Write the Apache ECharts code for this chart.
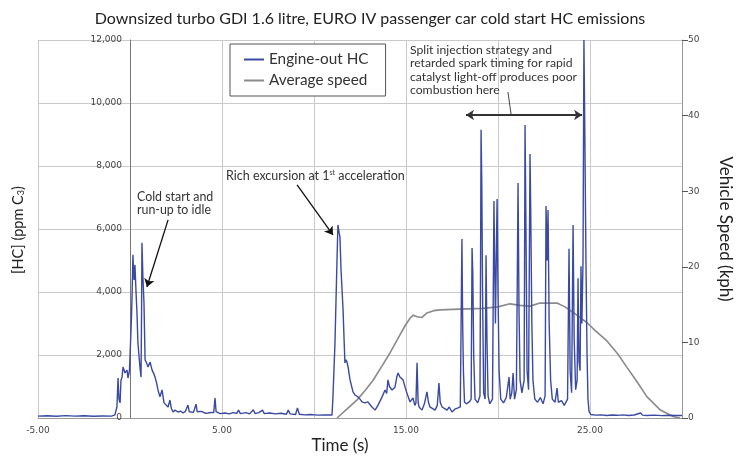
<!DOCTYPE html>
<html>
<head>
<meta charset="utf-8">
<script src="https://cdn.jsdelivr.net/npm/echarts@6/dist/echarts.min.js"></script>
<style>html,body{margin:0;padding:0;background:#fff}#c{width:740px;height:456px}</style>
</head>
<body>
<div id="c"></div>
<script>
// ---- data: [time (s), HC (ppm C3)] ----
var hcPreStart = [[-5,60],[-4.5,70],[-4,55],[-3.5,75],[-3,60],[-2.5,70],[-2,55],[-1.5,65],[-1,60],[-0.9,70]];
var hcColdStart = [[-0.82,100],[-0.71,350],[-0.65,1270],[-0.6,600],[-0.54,480],[-0.49,1200],[-0.43,1300],[-0.38,1620],[-0.27,1430],[-0.16,1520],[-0.11,1270],[-0.03,1500],[0.0,1940],[0.08,3200],[0.11,3840],[0.16,5180],[0.19,4700],[0.22,4380],[0.27,4860],[0.32,4100],[0.38,3330],[0.43,2380],[0.5,1900],[0.56,1500],[0.6,1300],[0.63,3500],[0.65,5560],[0.7,4500],[0.76,3650],[0.82,1840],[0.9,1750],[0.98,1620],[1.09,1780],[1.2,1520],[1.3,1400],[1.36,1300],[1.45,1100],[1.52,890],[1.63,670],[1.74,890],[1.85,480],[1.95,420],[2.07,350],[2.17,570],[2.25,300],[2.34,190],[2.45,250],[2.61,190],[2.75,220],[2.88,160],[3.0,200],[3.15,410],[3.22,200],[3.32,190],[3.45,180],[3.59,440],[3.65,200],[3.70,160],[3.85,210],[3.97,190],[4.1,150],[4.24,160],[4.4,180],[4.55,170],[4.62,635],[4.68,200],[4.73,160],[4.9,140]];
var hcIdle = [[5.16,160],[5.4,130],[5.6,170],[5.8,150],[5.9,250],[6.0,140],[6.3,170],[6.5,130],[6.7,260],[6.8,140],[7.0,170],[7.2,250],[7.3,140],[7.6,160],[7.9,130],[8.2,150],[8.5,120],[8.6,250],[8.7,130],[9.0,110],[9.1,320],[9.2,120],[9.5,100],[9.8,110],[10.2,90],[10.6,100],[10.98,95]];
var hcRich = [[11.03,670],[11.14,2380],[11.25,5020],[11.30,6130],[11.36,5900],[11.41,5750],[11.47,4700],[11.58,3430],[11.63,2570],[11.68,1750],[11.74,1850],[11.79,1780],[11.85,1620],[11.96,1210],[12.12,830],[12.23,730],[12.39,670],[12.5,600],[12.61,510],[12.77,480],[12.93,510],[13.05,420],[13.15,350],[13.32,250],[13.48,410],[13.6,550],[13.70,670],[13.86,890],[13.95,780],[14.02,1210],[14.1,1000],[14.24,890],[14.40,980],[14.5,1300],[14.57,1430],[14.67,1300],[14.75,1350],[14.84,1210],[14.95,980],[15.05,790],[15.22,510],[15.38,635],[15.48,400],[15.54,480],[15.60,1750],[15.66,500],[15.71,350],[15.87,250],[16.0,450],[16.14,830],[16.22,500],[16.30,350],[16.45,300],[16.58,250],[16.70,400],[16.79,1110],[16.86,500],[16.96,350],[17.1,300],[17.23,250],[17.35,350],[17.50,190],[17.65,280],[17.83,320],[17.95,350]];
var hcSplit = [[18.0,400],[18.04,5680],[18.08,3000],[18.12,1500],[18.18,500],[18.3,450],[18.45,520],[18.54,600],[18.59,5400],[18.63,4600],[18.68,2000],[18.75,600],[18.9,480],[19.02,700],[19.06,6000],[19.08,9150],[19.12,7400],[19.16,4000],[19.22,800],[19.3,600],[19.35,5170],[19.4,2500],[19.46,700],[19.55,450],[19.7,600],[19.78,6890],[19.86,3000],[19.95,6950],[20.0,4000],[20.06,1500],[20.15,600],[20.3,480],[20.45,650],[20.6,1300],[20.66,600],[20.75,800],[20.82,1430],[20.9,600],[21.0,900],[21.09,7460],[21.14,3500],[21.2,1200],[21.3,800],[21.42,1200],[21.47,9300],[21.52,6000],[21.58,1500],[21.66,900],[21.74,8380],[21.78,6500],[21.84,3000],[21.9,1200],[22.0,600],[22.15,500],[22.3,650],[22.45,450],[22.56,700],[22.61,6730],[22.67,5000],[22.72,6600],[22.78,3000],[22.86,1200],[22.95,600],[23.1,500],[23.21,950],[23.28,500],[23.45,550],[23.6,400],[23.78,600],[23.86,5370],[23.92,1500],[24.0,800],[24.08,6130],[24.14,2500],[24.22,900],[24.3,1200],[24.35,4440],[24.4,1800],[24.46,1500],[24.51,4820],[24.56,3000],[24.62,5000],[24.67,12000],[24.72,9000],[24.78,5000],[24.84,2000],[24.89,600],[24.95,200]];
var hcTail = [[25.05,110],[25.3,90],[25.6,100],[25.9,80],[26.2,95],[26.5,85],[26.8,100],[27.1,80],[27.4,95],[27.75,160],[27.85,90],[28.1,80],[28.5,90],[28.9,75],[29.3,85],[29.7,80],[30,80]];
// ---- data: [time (s), speed (kph)] ----
var speedData = [[11.25,0],[11.8,1.2],[12.34,2.4],[12.8,3.7],[13.21,5.0],[13.7,6.9],[14.13,8.6],[14.4,9.8],[14.67,11.0],[14.95,12.2],[15.22,13.2],[15.4,13.6],[15.6,13.4],[15.87,13.3],[16.14,13.9],[16.5,14.2],[16.85,14.3],[17.93,14.4],[19.18,14.5],[20.0,14.7],[20.65,15.1],[21.2,14.9],[21.74,14.8],[22.28,15.2],[23.21,15.2],[23.64,14.7],[24.29,13.6],[24.84,12.6],[25.27,11.6],[25.92,10.2],[26.5,8.5],[27.01,6.7],[27.5,5.0],[28.1,2.8],[28.8,1.1],[29.51,0.2],[29.89,0]];
var xTickLabels = ['-5.00','5.00','15.00','25.00'];
var seriesNames = ['Engine-out HC','Average speed'];

var hcData = [].concat(hcPreStart, hcColdStart, hcIdle, hcRich, hcSplit, hcTail);
var F = 'Lato, "Open Sans", sans-serif';
var TF = '"DejaVu Sans", sans-serif';
var chart = echarts.init(document.getElementById('c'), null, {renderer:'canvas'});
chart.setOption({
  animation: false,
  backgroundColor: '#fff',
  title: {text: 'Downsized turbo GDI 1.6 litre, EURO IV passenger car cold start HC emissions', left: 'center', top: 6,
    textStyle: {fontFamily: F, fontSize: 16, fontWeight: 'normal', color: '#222'}},
  legend: {data: seriesNames, orient: 'vertical', left: 230, top: 44, padding: [8, 17, 8, 14], itemGap: 6,
    itemWidth: 20, itemHeight: 2, icon: 'rect', borderColor: '#555', borderWidth: 1, backgroundColor: '#fff',
    textStyle: {fontFamily: F, fontSize: 15.3, color: '#333'}},
  grid: {left: 38, right: 58, top: 40, bottom: 38, outerBoundsMode: 'none', containLabel: false},
  xAxis: {type: 'value', min: -5, max: 30, interval: 5,
    axisLine: {onZero: false, lineStyle: {color: '#999'}}, axisTick: {show: false},
    splitLine: {show: true, lineStyle: {color: '#cacaca'}},
    axisLabel: {fontFamily: TF, fontSize: 9, color: '#444', margin: 8, showMinLabel: true, showMaxLabel: true,
      formatter: function (v) { var s = v.toFixed(2); return xTickLabels.indexOf(s) >= 0 ? s : ''; }}},
  yAxis: [
    {type: 'value', min: 0, max: 12000, interval: 2000, position: 'left', offset: -92,
      axisLine: {show: true, onZero: false, lineStyle: {color: '#777'}}, axisTick: {show: false},
      splitLine: {show: true, lineStyle: {color: '#cacaca'}},
      axisLabel: {fontFamily: TF, fontSize: 9, color: '#444', margin: 8,
        formatter: function (v) { return v.toLocaleString('en-US'); }}},
    {type: 'value', min: 0, max: 50, interval: 10, position: 'right',
      axisLine: {show: true, onZero: false, lineStyle: {color: '#999'}},
      axisTick: {show: true, inside: false, length: 6, lineStyle: {color: '#555'}},
      splitLine: {show: false},
      axisLabel: {fontFamily: TF, fontSize: 9, color: '#444', margin: 6},
      name: 'Vehicle Speed (kph)', nameLocation: 'middle', nameRotate: -90, nameGap: 35,
      nameTextStyle: {fontFamily: F, fontSize: 17, color: '#222'}}
  ],
  graphic: [
    {type: 'text', x: 18, y: 230, rotation: Math.PI / 2,
      style: {text: '[HC] (ppm C{s|3})', rich: {s: {fontSize: 9, fontFamily: F, padding: [6, 0, 0, 0]}},
        fontFamily: F, fontSize: 14.5, fill: '#222', align: 'center', verticalAlign: 'middle'}},
    {type: 'text', x: 340, y: 446,
      style: {text: 'Time (s)', fontFamily: F, fontSize: 17, fill: '#222', align: 'center', verticalAlign: 'middle'}},
    {type: 'text', x: 137, y: 190,
      style: {text: 'Cold start and\nrun-up to idle', fontFamily: F, fontSize: 12.4, lineHeight: 13, fill: '#333'}},
    {type: 'text', x: 226, y: 169,
      style: {text: 'Rich excursion at 1{sup|st} acceleration', rich: {sup: {fontSize: 7, fontFamily: F, verticalAlign: 'top', padding: [0, 0, 6, 0]}},
        fontFamily: F, fontSize: 12.5, fill: '#333'}},
    {type: 'text', x: 410, y: 43, z: 10,
      style: {text: 'Split injection strategy and\nretarded spark timing for rapid\ncatalyst light-off produces poor\ncombustion here',
        fontFamily: F, fontSize: 12.2, lineHeight: 13.5, fill: '#333'}}
  ],
  series: [
    {name: seriesNames[0], type: 'line', data: hcData, yAxisIndex: 0, showSymbol: false, symbol: 'none',
      lineStyle: {color: '#3a4aa2', width: 1.4}, itemStyle: {color: '#3a4aa2'}, z: 3,
      markLine: {silent: true, animation: false, label: {show: false}, symbolSize: 8,
        data: [
          [{coord: [2.07, 6290], symbol: 'none'}, {coord: [0.92, 4160], symbol: 'arrow'}],
          [{coord: [9.08, 7400], symbol: 'none'}, {coord: [11.03, 5810], symbol: 'arrow'}],
          [{coord: [20.54, 10350], symbol: 'none', lineStyle: {color: '#444', width: 1}}, {coord: [20.71, 9650], symbol: 'none'}],
          [{coord: [18.26, 9620], symbol: 'arrow', lineStyle: {color: '#333', width: 2}}, {coord: [24.57, 9620], symbol: 'arrow'}]
        ],
        lineStyle: {type: 'solid', color: '#111', width: 1.3}}},
    {name: seriesNames[1], type: 'line', data: speedData, yAxisIndex: 1, showSymbol: false, symbol: 'none',
      lineStyle: {color: '#8a8a8a', width: 1.6}, itemStyle: {color: '#8a8a8a'}, z: 2}
  ]
});
</script>
</body>
</html>
